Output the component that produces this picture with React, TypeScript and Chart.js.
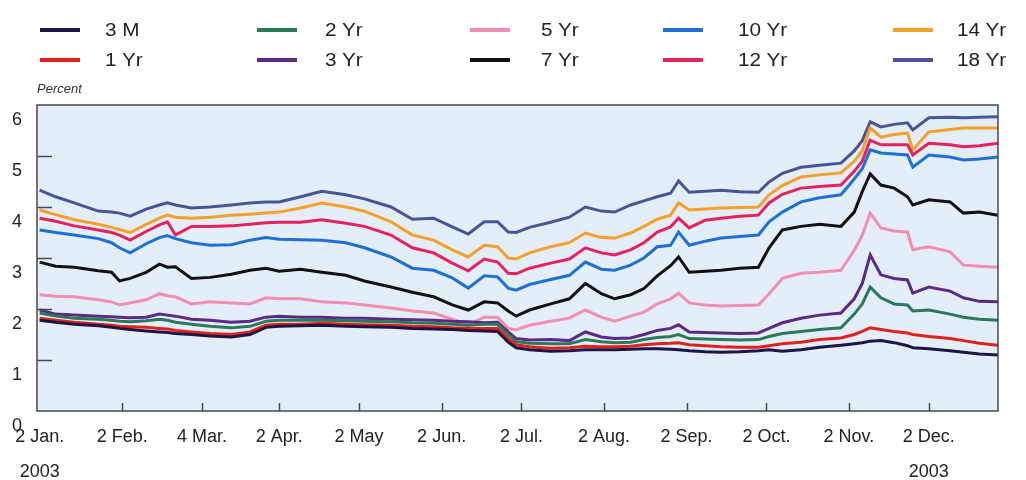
import React, { useEffect, useRef } from "react";
import { Chart, registerables } from "chart.js";
Chart.register(...registerables);

// Day offsets from 2 Jan. 2003
const dayOffsets = [
  0, 6, 13, 22, 27, 30, 34, 40, 45, 48,
  51, 57, 64, 72, 79, 85, 90, 98, 106, 115,
  122, 132, 140, 148, 155, 161, 167, 172, 176, 179,
  184, 192, 199, 205, 211, 216, 222, 227, 232, 237,
  240, 244, 250, 256, 263, 270, 274, 279, 286, 293,
  301, 306, 309, 312, 316, 321, 326, 328, 334, 342,
  347, 353, 360,
];

const seriesNames = ["3 M", "1 Yr", "2 Yr", "3 Yr", "5 Yr", "7 Yr", "10 Yr", "12 Yr", "14 Yr", "18 Yr"];
const seriesColors = ["#1c1548", "#e3211c", "#2a7a5a", "#5b2a86", "#f28fb1", "#111111", "#1e6fd6", "#e5225c", "#f5a02a", "#4a5597"];

const m3 = [
  1.78, 1.74, 1.7, 1.67, 1.64, 1.62, 1.6, 1.57, 1.55, 1.54,
  1.52, 1.5, 1.47, 1.45, 1.5, 1.64, 1.66, 1.67, 1.68, 1.66,
  1.65, 1.64, 1.62, 1.61, 1.6, 1.58, 1.57, 1.56, 1.35, 1.24,
  1.2, 1.17, 1.18, 1.2, 1.2, 1.2, 1.21, 1.22, 1.22, 1.21,
  1.2, 1.18, 1.16, 1.15, 1.16, 1.18, 1.2, 1.17, 1.2, 1.25,
  1.29, 1.32, 1.34, 1.37, 1.38, 1.34, 1.28, 1.24, 1.22, 1.18,
  1.15, 1.12, 1.1,
];
const yr1 = [
  1.82, 1.78, 1.74, 1.7, 1.68, 1.66, 1.65, 1.64, 1.62, 1.61,
  1.58, 1.55, 1.52, 1.5, 1.55, 1.68, 1.7, 1.7, 1.72, 1.7,
  1.69, 1.68, 1.66, 1.65, 1.63, 1.62, 1.62, 1.62, 1.42, 1.3,
  1.26, 1.23, 1.24, 1.27, 1.26, 1.26, 1.27, 1.3, 1.32, 1.33,
  1.34, 1.3, 1.28, 1.26, 1.25, 1.25, 1.28, 1.32, 1.35, 1.4,
  1.43, 1.5, 1.56, 1.63, 1.6, 1.56, 1.53, 1.5, 1.46, 1.42,
  1.38, 1.33, 1.29,
];
const yr2 = [
  1.92, 1.86, 1.82, 1.8, 1.78, 1.76, 1.75, 1.77, 1.8, 1.78,
  1.74, 1.7, 1.66, 1.63, 1.66, 1.76, 1.78, 1.78, 1.78, 1.77,
  1.76, 1.75, 1.73, 1.72, 1.7, 1.68, 1.7, 1.7, 1.5, 1.36,
  1.33, 1.32, 1.32, 1.4, 1.36, 1.34, 1.35, 1.4, 1.44, 1.46,
  1.5, 1.42, 1.41, 1.4, 1.39, 1.4, 1.46, 1.52, 1.56, 1.6,
  1.63, 1.9, 2.1, 2.43, 2.22, 2.1, 2.08, 1.96, 1.98, 1.9,
  1.84, 1.8, 1.78,
];
const yr3 = [
  1.98, 1.9, 1.88, 1.86, 1.85, 1.84, 1.83, 1.84, 1.9, 1.88,
  1.86, 1.8, 1.78, 1.74, 1.76, 1.84, 1.86, 1.84, 1.84, 1.82,
  1.82, 1.8, 1.79, 1.78, 1.76, 1.75, 1.73, 1.74, 1.55, 1.42,
  1.39, 1.4, 1.38, 1.55, 1.45, 1.42, 1.43, 1.5, 1.58, 1.62,
  1.69, 1.55, 1.54, 1.53, 1.52, 1.53, 1.62, 1.73, 1.82, 1.88,
  1.92, 2.2, 2.5, 3.06, 2.67, 2.6, 2.57, 2.31, 2.43, 2.35,
  2.22, 2.15, 2.14,
];
const yr5 = [
  2.28, 2.25, 2.24, 2.18, 2.14, 2.08, 2.12, 2.18, 2.3, 2.26,
  2.24, 2.1, 2.14, 2.12, 2.1, 2.22, 2.2, 2.2, 2.14, 2.12,
  2.08, 2.02, 1.96, 1.92, 1.8, 1.69, 1.84, 1.84, 1.62, 1.59,
  1.68, 1.76, 1.82, 1.98, 1.84, 1.76, 1.86, 1.94, 2.1, 2.2,
  2.31, 2.12, 2.08, 2.06, 2.07, 2.08, 2.3, 2.6, 2.7, 2.72,
  2.76, 3.15, 3.45, 3.88, 3.59, 3.53, 3.51, 3.16, 3.22, 3.12,
  2.86, 2.84, 2.82,
];
const yr7 = [
  2.92, 2.84, 2.82, 2.75, 2.72, 2.55, 2.6, 2.72, 2.88, 2.82,
  2.83, 2.6, 2.62, 2.68, 2.76, 2.8, 2.74, 2.78, 2.72, 2.66,
  2.55, 2.43, 2.33, 2.24, 2.08, 1.98, 2.14, 2.12, 1.96, 1.86,
  1.98, 2.1, 2.2, 2.5, 2.3, 2.2, 2.28, 2.4, 2.65, 2.85,
  3.02, 2.72, 2.74, 2.76, 2.8, 2.82, 3.2, 3.55, 3.62, 3.66,
  3.62, 3.9, 4.3, 4.65, 4.43, 4.37, 4.2, 4.04, 4.14, 4.1,
  3.88, 3.9, 3.84,
];
const yr10 = [
  3.55, 3.5, 3.45, 3.38, 3.3, 3.2, 3.1, 3.28, 3.4, 3.44,
  3.38, 3.3, 3.25, 3.26, 3.35, 3.4, 3.37, 3.36, 3.35, 3.3,
  3.2, 3.02, 2.8, 2.76, 2.61, 2.41, 2.65, 2.63, 2.41, 2.37,
  2.48, 2.58, 2.66, 2.92, 2.78, 2.76, 2.86, 3.0, 3.22, 3.25,
  3.51, 3.25, 3.33, 3.39, 3.42, 3.45, 3.71, 3.9, 4.1, 4.18,
  4.24, 4.55, 4.75, 5.12, 5.06, 5.04, 5.02, 4.78, 5.02, 4.98,
  4.92, 4.94, 4.98,
];
const yr12 = [
  3.78, 3.72, 3.63, 3.55, 3.5, 3.45, 3.35, 3.52, 3.65, 3.71,
  3.45, 3.62, 3.62, 3.63, 3.66, 3.69, 3.7, 3.7, 3.75, 3.68,
  3.62, 3.45, 3.2, 3.1, 2.9, 2.75, 2.98, 2.92, 2.7, 2.69,
  2.8, 2.9, 2.98, 3.2, 3.1, 3.06, 3.16, 3.3, 3.51, 3.61,
  3.78, 3.59, 3.74, 3.78, 3.82, 3.84, 4.08, 4.25, 4.37, 4.4,
  4.43, 4.7, 4.9, 5.31, 5.22, 5.22, 5.22, 5.02, 5.25, 5.22,
  5.18, 5.2, 5.25,
];
const yr14 = [
  3.94, 3.85, 3.75, 3.66, 3.6, 3.56, 3.5, 3.66, 3.78, 3.84,
  3.8, 3.78, 3.8, 3.84, 3.86, 3.88, 3.9, 3.98, 4.08, 4.0,
  3.92, 3.71, 3.45, 3.35, 3.16, 3.02, 3.25, 3.22, 3.0, 2.98,
  3.1, 3.22, 3.3, 3.49, 3.4, 3.39, 3.49, 3.62, 3.76, 3.84,
  4.08, 3.94, 3.96, 3.98, 3.99, 4.0, 4.24, 4.42, 4.59, 4.63,
  4.67, 4.9, 5.1, 5.55, 5.37, 5.42, 5.45, 5.12, 5.47, 5.52,
  5.55, 5.55, 5.55,
];
const yr18 = [
  4.33, 4.2, 4.08, 3.92, 3.9, 3.88, 3.82, 3.96, 4.04, 4.08,
  4.04, 3.98, 4.0, 4.04, 4.08, 4.1, 4.1, 4.2, 4.31, 4.24,
  4.16, 4.0, 3.76, 3.78, 3.61, 3.47, 3.71, 3.71, 3.51, 3.5,
  3.6, 3.7, 3.8, 4.0, 3.92, 3.9, 4.04, 4.12, 4.2, 4.27,
  4.51, 4.29, 4.31, 4.33, 4.3, 4.29, 4.49, 4.66, 4.78, 4.82,
  4.86, 5.1, 5.3, 5.67, 5.57, 5.62, 5.65, 5.51, 5.75, 5.76,
  5.75, 5.76, 5.77,
];

const seriesValues = [m3, yr1, yr2, yr3, yr5, yr7, yr10, yr12, yr14, yr18];

// X axis tick positions (day offsets) and labels
const tickDays = [0, 31, 61, 90, 120, 151, 181, 212, 243, 273, 304, 334];
const tickLabels = ["2 Jan.", "2 Feb.", "4 Mar.", "2 Apr.", "2 May", "2 Jun.", "2 Jul.", "2 Aug.", "2 Sep.", "2 Oct.", "2 Nov.", "2 Dec."];
const yearLabel = "2003";
const yearTickIndexes = [0, 11];
const yTickValues = [0, 1, 2, 3, 4, 5, 6];
const yAxisTitle = "Percent";

const FONT = "'Liberation Sans', Arial, Helvetica, sans-serif";

const framePlugin = {
  id: "frame",
  beforeDatasetsDraw(chart: any) {
    const { ctx, chartArea } = chart;
    ctx.save();
    ctx.fillStyle = "#e3eef8";
    ctx.fillRect(chartArea.left, chartArea.top, chartArea.right - chartArea.left, chartArea.bottom - chartArea.top);
    ctx.restore();
  },
  afterDraw(chart: any) {
    const { ctx, chartArea, scales } = chart;
    ctx.save();
    ctx.strokeStyle = "#4a4a4a";
    ctx.lineWidth = 1.5;
    ctx.strokeRect(chartArea.left, chartArea.top, chartArea.right - chartArea.left, chartArea.bottom - chartArea.top);
    ctx.beginPath();
    for (const v of yTickValues) {
      if (v <= 0 || v >= 6) continue;
      const y = Math.round(scales.y.getPixelForValue(v)) + 0.5;
      ctx.moveTo(chartArea.left, y);
      ctx.lineTo(chartArea.left + 15, y);
    }
    for (const d of tickDays) {
      if (d <= 0) continue;
      const x = Math.round(scales.x.getPixelForValue(d)) + 0.5;
      ctx.moveTo(x, chartArea.bottom);
      ctx.lineTo(x, chartArea.bottom - 8);
    }
    ctx.stroke();
    ctx.restore();
  },
};

function Legend() {
  const lineLefts = [40, 257, 470, 663, 893];
  const textLefts = [105, 325, 541, 738, 957];
  const rowCenters = [30, 60];
  return (
    <>
      {seriesNames.map((name, i) => {
        const col = Math.floor(i / 2);
        const row = i % 2;
        const cy = rowCenters[row];
        return (
          <React.Fragment key={name}>
            <div
              style={{
                position: "absolute",
                left: lineLefts[col],
                top: cy - 2,
                width: 40,
                height: 4,
                background: seriesColors[i],
              }}
            />
            <div
              style={{
                position: "absolute",
                left: textLefts[col],
                top: cy - 11,
                height: 22,
                lineHeight: "22px",
                fontSize: 18,
                fontFamily: FONT,
                color: "#222",
                whiteSpace: "nowrap",
                transform: "scaleX(1.15)",
                transformOrigin: "left center",
              }}
            >
              {name}
            </div>
          </React.Fragment>
        );
      })}
      <div
        style={{
          position: "absolute",
          left: 37,
          top: 81,
          fontSize: 13,
          lineHeight: "16px",
          fontStyle: "italic",
          fontFamily: FONT,
          color: "#333",
        }}
      >
        {yAxisTitle}
      </div>
    </>
  );
}

export default function App() {
  const canvasRef = useRef<HTMLCanvasElement | null>(null);

  useEffect(() => {
    if (!canvasRef.current) return;
    const datasets = seriesNames.map((name, i) => ({
      label: name,
      data: dayOffsets.map((d, j) => ({ x: d, y: seriesValues[i][j] })),
      borderColor: seriesColors[i],
      backgroundColor: seriesColors[i],
      borderWidth: 3,
      pointRadius: 0,
      tension: 0,
      fill: false,
    }));
    const chart = new Chart(canvasRef.current, {
      type: "line",
      data: { datasets },
      options: {
        animation: false,
        responsive: true,
        maintainAspectRatio: false,
        layout: { padding: { top: 105, right: 28, left: 0, bottom: 0 } },
        plugins: { legend: { display: false }, tooltip: { enabled: false } },
        scales: {
          x: {
            type: "linear",
            min: -1,
            max: 360,
            grid: { display: false },
            border: { display: false },
            afterBuildTicks: (scale: any) => {
              scale.ticks = tickDays.map((v) => ({ value: v }));
            },
            afterFit: (scale: any) => {
              scale.height = 69;
            },
            ticks: {
              autoSkip: false,
              maxRotation: 0,
              padding: 0,
              color: "#222",
              font: { family: FONT, size: 18, lineHeight: 1.95 },
              callback: (_v: any, idx: number) =>
                yearTickIndexes.includes(idx) ? [tickLabels[idx], yearLabel] : tickLabels[idx],
            },
          },
          y: {
            min: 0,
            max: 6,
            grid: { display: false, drawTicks: false },
            border: { display: false },
            afterBuildTicks: (scale: any) => {
              scale.ticks = yTickValues.map((v) => ({ value: v }));
            },
            afterFit: (scale: any) => {
              scale.width = 37;
            },
            ticks: {
              padding: 15,
              labelOffset: 15,
              color: "#222",
              font: { family: FONT, size: 18 },
              callback: (v: any) => String(v),
            },
          },
        },
      },
      plugins: [framePlugin],
    });
    return () => chart.destroy();
  }, []);

  return (
    <div style={{ position: "absolute", left: 0, top: 0, width: 1026, height: 480, background: "#fff" }}>
      <canvas ref={canvasRef} />
      <Legend />
    </div>
  );
}
